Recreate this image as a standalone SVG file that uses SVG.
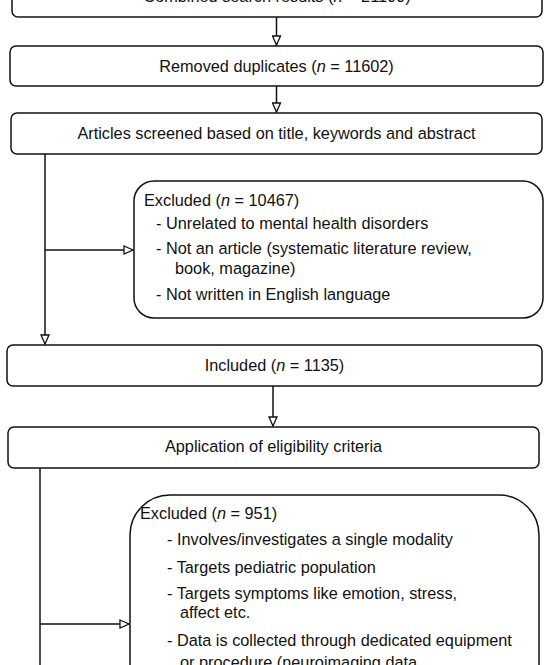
<svg xmlns="http://www.w3.org/2000/svg" width="550" height="665" viewBox="0 0 550 665">
<defs>
<marker id="tri" viewBox="0 0 11 10" refX="10" refY="5" markerWidth="11" markerHeight="10" markerUnits="userSpaceOnUse" orient="auto">
<path d="M1,1 L10,5 L1,9 Z" fill="#fff" stroke="#111" stroke-width="1.3"/>
</marker>
</defs>
<style>
.box{fill:#fff;stroke:#111;stroke-width:1.5}
.t{font-family:"Liberation Sans",Arial,sans-serif;font-size:16.3px;fill:#111}
.c{text-anchor:middle}
.con{fill:none;stroke:#111;stroke-width:1.5}
</style>
<rect width="550" height="665" fill="#fff"/>
<g id="connectors">
<line class="con" x1="276.5" y1="17" x2="276.5" y2="45" marker-end="url(#tri)"/>
<line class="con" x1="276.5" y1="86" x2="276.5" y2="112" marker-end="url(#tri)"/>
<line class="con" x1="45" y1="154" x2="45" y2="344" marker-end="url(#tri)"/>
<line class="con" x1="45" y1="250" x2="133" y2="250" marker-end="url(#tri)"/>
<line class="con" x1="273" y1="386" x2="273" y2="426" marker-end="url(#tri)"/>
<line class="con" x1="40" y1="468" x2="40" y2="665"/>
<line class="con" x1="40" y1="624" x2="129" y2="624" marker-end="url(#tri)"/>
</g>
<g id="n1">
<rect class="box" x="12" y="-30" width="530" height="47" rx="6"/>
<text class="t c" x="277" y="2">Combined search results (<tspan font-style="italic">n</tspan> = 21100)</text>
</g>
<g id="n2">
<rect class="box" x="10" y="46" width="533" height="40" rx="6"/>
<text class="t c" x="276.5" y="71.5">Removed duplicates (<tspan font-style="italic">n</tspan> = 11602)</text>
</g>
<g id="n3">
<rect class="box" x="11" y="113" width="531" height="41" rx="6"/>
<text class="t c" x="276.5" y="139">Articles screened based on title, keywords and abstract</text>
</g>
<g id="n4">
<rect class="box" x="134" y="181" width="409" height="137" rx="20"/>
<text class="t" x="144" y="206">Excluded (<tspan font-style="italic">n</tspan> = 10467)</text>
<text class="t" x="156" y="229">- Unrelated to mental health disorders</text>
<text class="t" x="156" y="254">- Not an article (systematic literature review,</text>
<text class="t" x="175" y="274">book, magazine)</text>
<text class="t" x="156" y="300">- Not written in English language</text>
</g>
<g id="n5">
<rect class="box" x="7" y="345" width="535" height="41" rx="6"/>
<text class="t c" x="274.5" y="371">Included (<tspan font-style="italic">n</tspan> = 1135)</text>
</g>
<g id="n6">
<rect class="box" x="8" y="427" width="531" height="41" rx="6"/>
<text class="t c" x="273.5" y="452">Application of eligibility criteria</text>
</g>
<g id="n7">
<rect class="box" x="130" y="495" width="409" height="260" rx="40"/>
<text class="t" x="140" y="519">Excluded (<tspan font-style="italic">n</tspan> = 951)</text>
<text class="t" x="167" y="545">- Involves/investigates a single modality</text>
<text class="t" x="167" y="573">- Targets pediatric population</text>
<text class="t" x="167" y="599">- Targets symptoms like emotion, stress,</text>
<text class="t" x="180" y="618">affect etc.</text>
<text class="t" x="167" y="646">- Data is collected through dedicated equipment</text>
<text class="t" x="180" y="668">or procedure (neuroimaging data,</text>
</g>
</svg>
